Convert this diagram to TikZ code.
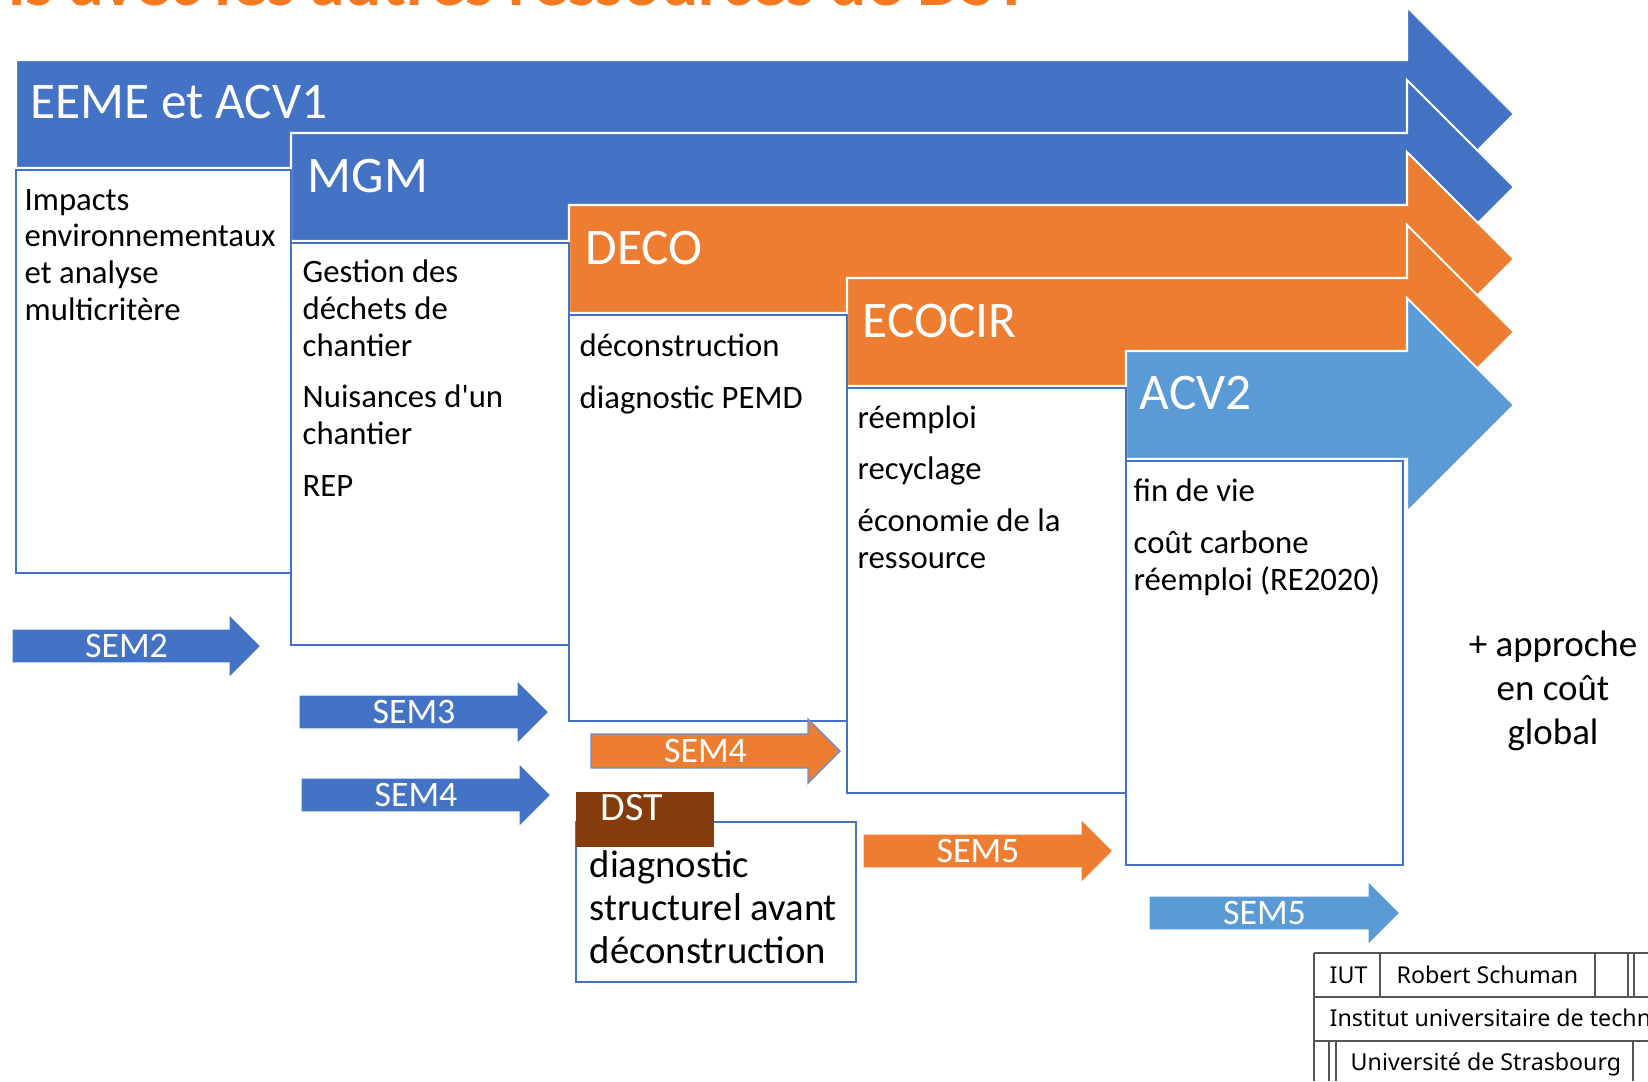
\documentclass[tikz,border=0pt]{standalone}
\usepackage{fontspec}
\setmainfont{Carlito}
\newfontfamily\logofont{Noto Sans}
\usetikzlibrary{positioning}

\definecolor{eemeblue}{HTML}{4472C4}
\definecolor{decoorange}{HTML}{ED7D31}
\definecolor{acvblue}{HTML}{5B9BD5}
\definecolor{dstbrown}{HTML}{843C0C}
\definecolor{headorange}{HTML}{F47920}
\definecolor{logogray}{HTML}{555555}

% big arrow: left x, axis y, colour
\newcommand{\bigarrow}[3]{%
  \filldraw[fill=#3,draw=white,line width=0.6pt]
    (#1,#2-54) -- (1407,#2-54) -- (1407,#2-107) -- (1514,#2)
    -- (1407,#2+107) -- (1407,#2+54) -- (#1,#2+54) -- cycle;}
% semester arrow: name, left x, tip x, axis y, colour, label
\newcommand{\semarrow}[6]{%
  \filldraw[draw=white,line width=0.4pt,fill=#5]
    (#2,#4-17) -- (#3-32,#4-17) -- (#3-32,#4-32) -- (#3,#4)
    -- (#3-32,#4+32) -- (#3-32,#4+17) -- (#2,#4+17) -- cycle;
  \node[semlabel] (#1) at ({(#2+#3-32)/2+6},#4) {#6};}

\begin{document}
\begin{tikzpicture}[x=0.01cm, y=-0.01cm]
\tikzstyle{arrowtitle}=[anchor=base west,inner sep=0,text=white,font=\fontsize{14.6}{17}\selectfont]
\tikzstyle{boxline}=[draw=eemeblue,line width=0.6pt]
% multi-line texts are placed by the baseline of their last line
\tikzstyle{boxtext}=[anchor=base west,inner sep=0,align=left,font=\fontsize{9.3}{10.4}\selectfont]
\tikzstyle{semlabel}=[inner sep=0,text=white,font=\fontsize{10.2}{12}\selectfont]
\tikzstyle{logoline}=[draw=logogray,line width=0.3pt]
\tikzstyle{logotext}=[anchor=base west,inner sep=0,font=\logofont\fontsize{6.6}{8}\selectfont]
\useasboundingbox (0,0) rectangle (1648,1081);

% big arrows
\bigarrow{16}{114}{eemeblue}
\bigarrow{291}{187}{eemeblue}
\bigarrow{569}{259}{decoorange}
\bigarrow{847}{332}{decoorange}
\bigarrow{1126}{405}{acvblue}

\node[arrowtitle] (eeme)   at (30,118)   {EEME et ACV1};
\node[arrowtitle] (mgm)    at (307,192)  {MGM};
\node[arrowtitle] (deco)   at (585,264)  {DECO};
\node[arrowtitle] (ecocir) at (862,337)  {ECOCIR};
\node[arrowtitle] (acv)    at (1139,409) {ACV2};

% boxes
\draw[boxline] (16,170) rectangle (291,573);
\draw[boxline] (291,243) rectangle (569,645);
\draw[boxline] (569,315) rectangle (847,721);
\draw[boxline] (847,388) rectangle (1126,793);
\draw[boxline] (1126,461) rectangle (1403,865);

\node[boxtext] (eemetxt) at (24,320) {Impacts\\environnementaux\\et analyse\\multicritère};
\node[boxtext] (mgmtxt) at (302,496) {Gestion des\\déchets de\\chantier\\[4.3pt]Nuisances d\textquotesingle un\\chantier\\[4.3pt]REP};
\node[boxtext] (decotxt) at (579,408) {déconstruction\\[4.3pt]diagnostic PEMD};
\node[boxtext] (ecocirtxt) at (857,568) {réemploi\\[4.3pt]recyclage\\[4.3pt]économie de la\\ressource};
\node[boxtext] (acvtxt) at (1133,590) {fin de vie\\[4.3pt]coût carbone\\réemploi (RE2020)};

% semesters
\semarrow{sem2}{12}{261}{646}{eemeblue}{SEM2}
\semarrow{sem3}{299}{549}{712}{eemeblue}{SEM3}
\semarrow{sem4a}{301}{551}{795}{eemeblue}{SEM4}
\semarrow{sem4b}{591}{840}{751}{decoorange,draw=eemeblue!80}{SEM4}
\semarrow{sem5a}{863}{1113}{851}{decoorange}{SEM5}
\semarrow{sem5b}{1149}{1400}{913}{acvblue}{SEM5}

% DST
\draw[boxline] (576,822) rectangle (856,982);
\fill[dstbrown] (576,792) rectangle (714,847);
\node[anchor=base west,inner sep=0,text=white,font=\fontsize{11.4}{13}\selectfont] (dst) at (600,820) {DST};
\node[anchor=base west,inner sep=0,align=left,font=\fontsize{11}{12.1}\selectfont] (dsttxt) at (589,963)
  {diagnostic\\structurel avant\\déconstruction};

\node[anchor=base,inner sep=0,align=center,font=\fontsize{10.5}{12.5}\selectfont] (global) at (1553,744)
  {+ approche\\en coût\\global};

\begin{scope}
\clip (0,0) rectangle (1648,1081);
% header
\node[anchor=base west,inner sep=0,text=headorange,font=\bfseries\fontsize{19.8}{22}\selectfont] (head) at (8,5)
  {ls avec les autres ressources de DST};
% logo
\draw[logoline] (1314,953) -- (1648,953);
\draw[logoline] (1314,997) -- (1648,997);
\draw[logoline] (1314,1041) -- (1648,1041);
\draw[logoline] (1314,953) -- (1314,1081);
\draw[logoline] (1380,953) -- (1380,997);
\draw[logoline] (1595,953) -- (1595,997);
\draw[logoline] (1628,953) -- (1628,997);
\draw[logoline] (1634,953) -- (1634,997);
\draw[logoline] (1329,1041) -- (1329,1081);
\draw[logoline] (1336,1041) -- (1336,1081);
\draw[logoline] (1633,1041) -- (1633,1081);
\node[logotext,font=\logofont\bfseries\fontsize{6.6}{8}\selectfont] (iut) at (1329,983) {IUT};
\node[logotext,font=\logofont\bfseries\fontsize{6.6}{8}\selectfont] (rs) at (1396,983) {Robert Schuman};
\node[logotext] (inst) at (1329,1026) {Institut universitaire de technologie};
\node[logotext] (unistra) at (1350,1070) {Université de Strasbourg};
\end{scope}
\end{tikzpicture}
\end{document}
